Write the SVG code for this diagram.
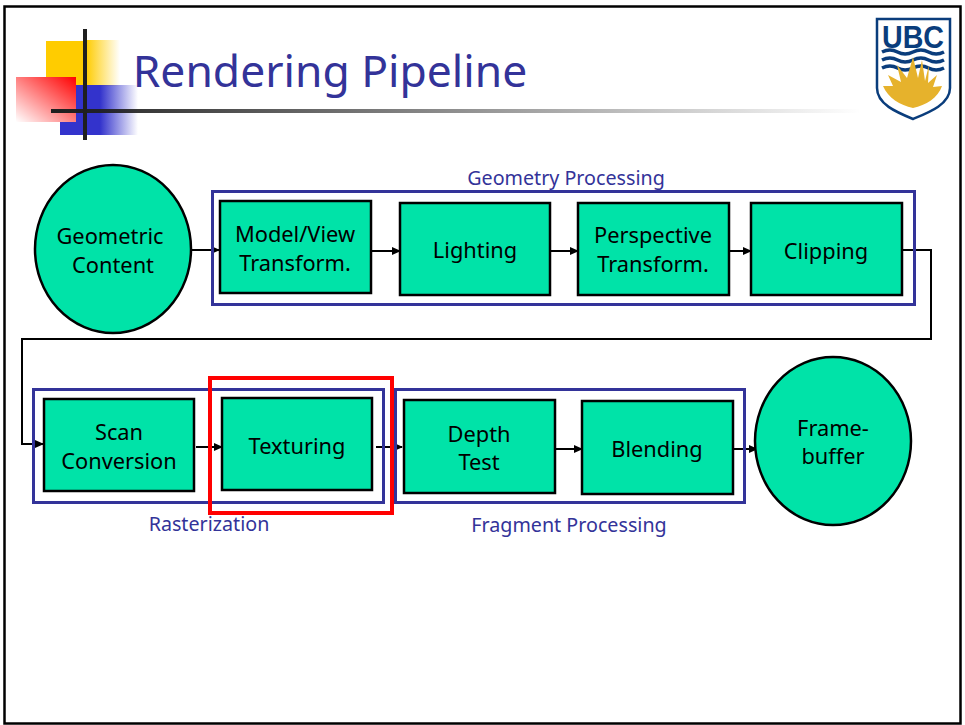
<svg xmlns="http://www.w3.org/2000/svg" width="965" height="725" viewBox="0 0 965 725">
<style>
text{font-family:"Noto Sans","Open Sans","DejaVu Sans",sans-serif;text-anchor:middle}
.n{fill:#00e3a8;stroke:#000;stroke-width:2.500}
.t{font-size:21.800px;fill:#000}
.g{fill:none;stroke:#333399;stroke-width:3}
.l{font-size:19.700px;fill:#333399}
.c{fill:none;stroke:#000;stroke-width:2}
.a{marker-end:url(#arr)}
</style>
<defs>
<marker id="arr" markerWidth="9" markerHeight="8" refX="8" refY="4" orient="auto" markerUnits="userSpaceOnUse"><path d="M0,0L9,4L0,8z" fill="#000"/></marker>
<linearGradient id="gy"><stop offset="0" stop-color="#ffcc00"/><stop offset="1" stop-color="#ffcc00" stop-opacity="0"/></linearGradient>
<linearGradient id="gb"><stop offset="0" stop-color="#3333cc"/><stop offset="1" stop-color="#3333cc" stop-opacity="0"/></linearGradient>
<linearGradient id="gr" x1="1" y1="0" x2="0" y2="1"><stop offset="0" stop-color="#ff0000"/><stop offset="1" stop-color="#ff0000" stop-opacity="0"/></linearGradient>
<linearGradient id="gl"><stop offset="0" stop-color="#1f1f1f"/><stop offset="1" stop-color="#1f1f1f" stop-opacity="0"/></linearGradient>
</defs>
<rect width="965" height="725" fill="#fff"/>
<rect x="4.500" y="6.500" width="956" height="717" fill="none" stroke="#000" stroke-width="2.500"/>
<g id="title-decor">
<rect x="46" y="41" width="40" height="45" fill="#ffcc00"/>
<rect x="86" y="40" width="34" height="46" fill="url(#gy)"/>
<rect x="60" y="85" width="40" height="50" fill="#3333cc"/>
<rect x="100" y="85" width="38" height="50" fill="url(#gb)"/>
<rect x="16" y="77" width="60" height="45" fill="#fff"/>
<rect x="16" y="77" width="60" height="45" fill="url(#gr)"/>
<rect x="51" y="109" width="810" height="4" fill="url(#gl)"/>
<rect x="83" y="29" width="4" height="111" fill="#1f1f1f"/>
</g>
<text x="330" y="87" fill="#333399" style="font-size:44.400px">Rendering Pipeline</text>
<g id="ubc-logo">
<path d="M877 19H950V88C950 104 930 112 913 119C896 112 877 104 877 88Z" fill="#fff" stroke="#0a3d7c" stroke-width="2.500"/>
<text x="913" y="47.500" style="font-family:'Liberation Sans',sans-serif;font-size:31px;font-weight:bold" fill="#0a3d7c" textLength="62" lengthAdjust="spacingAndGlyphs">UBC</text>
<path d="M882 52q8-4 15.500 0t15.500 0t15.500 0t15.500 0M882 60q8-4 15.500 0t15.500 0t15.500 0t15.500 0M882 68q8-4 15.500 0t15.500 0t15.500 0t15.500 0" fill="none" stroke="#0a3d7c" stroke-width="3.500"/>
<path d="M883 86L893 86L888 75L901 82L897 65L907 78L913 57L918 78L922 60L925 81L929 65L928 83L937 75L933 87L942 86C938 98 926 105 913 108C900 105 888 98 883 86Z" fill="#e6b22c"/>
</g>
<g id="connectors">
<path class="c a" d="M192 250H219"/>
<path class="c a" d="M372 251H400"/>
<path class="c a" d="M551 251H578"/>
<path class="c a" d="M730 251H751"/>
<path class="c a" d="M903 250H931V339H22V444H43"/>
<path class="c a" d="M196 447H222"/>
<path class="c a" d="M376 447H402"/>
<path class="c a" d="M556 449H582"/>
<path class="c a" d="M734 449H757"/>
</g>
<g id="group-geometry"><rect class="g" x="212.500" y="191.500" width="702" height="113"/><text class="l" x="566" y="185">Geometry Processing</text></g>
<g id="group-raster"><rect class="g" x="33.500" y="389.500" width="350" height="113"/><text class="l" x="209" y="531">Rasterization</text></g>
<g id="group-fragment"><rect class="g" x="395.500" y="389.500" width="349" height="113"/><text class="l" x="569" y="532">Fragment Processing</text></g>
<g id="geometric-content"><ellipse class="n" cx="113" cy="249" rx="78" ry="84"/><text class="t" x="110" y="244">Geometric</text><text class="t" x="113" y="273">Content</text></g>
<g id="model-view"><rect class="n" x="220" y="201" width="151" height="92"/><text class="t" x="295" y="242">Model/View</text><text class="t" x="295" y="271">Transform.</text></g>
<g id="lighting"><rect class="n" x="400" y="203" width="150" height="92"/><text class="t" x="475" y="258">Lighting</text></g>
<g id="perspective"><rect class="n" x="578" y="203" width="151" height="92"/><text class="t" x="653" y="243">Perspective</text><text class="t" x="653" y="272">Transform.</text></g>
<g id="clipping"><rect class="n" x="751" y="203" width="151" height="92"/><text class="t" x="826" y="259">Clipping</text></g>
<g id="scan-conversion"><rect class="n" x="44" y="399" width="150" height="92"/><text class="t" x="119" y="440">Scan</text><text class="t" x="119" y="469">Conversion</text></g>
<g id="texturing"><rect class="n" x="222" y="398" width="150" height="92"/><text class="t" x="297" y="454">Texturing</text></g>
<g id="depth-test"><rect class="n" x="404" y="400" width="151" height="93"/><text class="t" x="479" y="442">Depth</text><text class="t" x="479" y="470">Test</text></g>
<g id="blending"><rect class="n" x="582" y="401" width="151" height="93"/><text class="t" x="657" y="457">Blending</text></g>
<g id="framebuffer"><ellipse class="n" cx="833" cy="441" rx="78" ry="84"/><text class="t" x="833" y="436">Frame-</text><text class="t" x="833" y="464">buffer</text></g>
<rect id="highlight" x="210" y="378" width="182" height="135" fill="none" stroke="#ff0000" stroke-width="4"/>
</svg>
